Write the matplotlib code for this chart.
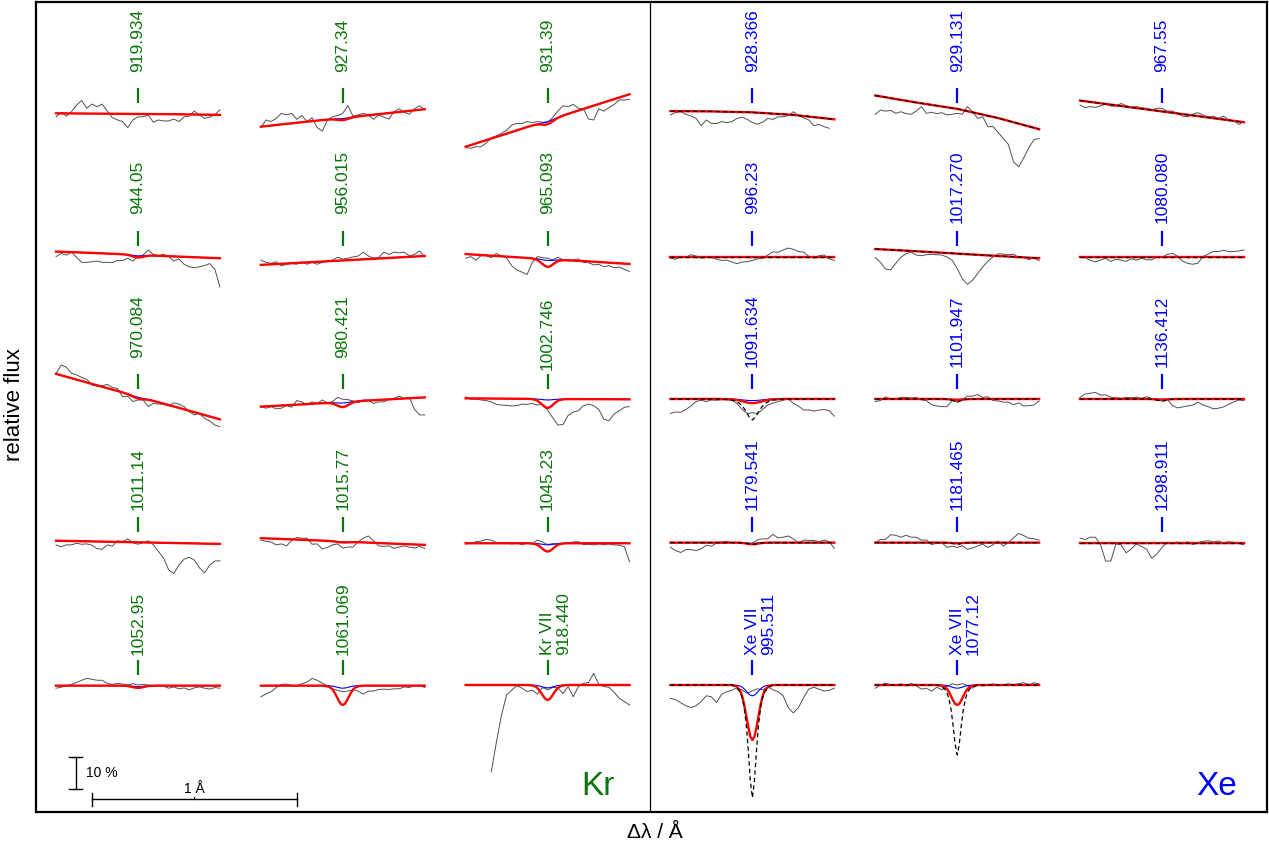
import numpy as np
import matplotlib
matplotlib.use("Agg")
import matplotlib.pyplot as plt

plt.rcParams['font.family'] = ['Liberation Sans', 'DejaVu Sans']
nan = np.nan

# ---------------- data ----------------
# observed spectra: relative flux offset in %, sampled evenly from -0.4 to +0.4 A
kr_919_934 = [-1.2, 0.2, -1.0, 0.4, 2.5, 3.9, 1.5, 2.8, 2.0, 2.8, 0.6, -1.5, -2.2, -2.7, -4.6, -2.2, -1.2,
              -1.2, -0.6, -2.9, -2.2, -2.5, -2.5, -1.9, -2.7, -1.2, -1.0, 0.6, -0.6, -1.7, -1.3, -0.6, 1.0]
kr_927_34 = [-4.6, -2.2, -2.7, -1.7, -0.1, -0.6, -0.1, -2.0, -0.8, -2.7, -1.5, -4.6, -5.7, -2.2, -1.2, -0.8,
             -0.1, 2.3, -1.0, -0.6, -0.1, -0.6, -2.0, -0.6, -1.3, -1.9, 0.4, 1.3, 0.2, -0.4, 1.3, 2.3, 1.0]
kr_931_39 = [-10.9, -11.1, -10.6, -10.6, -9.5, -7.8, -7.2, -6.4, -5.4, -3.8, -3.3, -3.3, -2.7, -3.0, -2.7,
             -2.9, -2.9, -1.4, 0.6, 2.3, 2.0, 2.7, 1.5, 1.3, -1.9, -2.2, 1.3, 0.6, 1.7, 2.7, 4.1, 4.1, 4.3]
kr_944_05 = [-0.2, 0.8, 0.3, 1.2, -0.4, -2.0, -2.0, -1.8, -1.6, -2.0, -2.0, -2.1, -1.4, -1.4, -0.7, -1.6,
             -0.2, 0.3, 1.9, 0.5, 0.1, 0.5, -0.2, -1.6, -0.9, -2.6, -3.4, -3.7, -3.4, -3.0, -2.4, -4.1, -9.7]
kr_956_015 = [-1.3, -2.0, -2.3, -1.8, -3.1, -2.6, -2.3, -2.6, -1.8, -2.6, -2.0, -2.6, -2.0, -1.6, -1.3, -0.4,
              -1.0, -0.7, -0.3, 0.0, 1.2, 0.0, -0.7, -0.5, 1.2, 0.5, 1.2, 1.0, 1.2, 0.0, 0.5, 1.6, -0.2]
kr_965_093 = [-0.7, -0.2, -1.3, 0.1, 0.1, -0.5, 0.8, 0.0, -0.7, -3.1, -4.4, -5.1, -5.8, -2.0, -0.2, -0.5,
              -0.7, -1.2, -0.4, -1.2, -1.6, -1.3, -0.9, -2.0, -2.1, -2.8, -2.6, -3.4, -3.0, -3.7, -3.5, -4.2, -4.9]
kr_970_084 = [8.1, 10.7, 10.0, 8.1, 7.6, 6.8, 6.2, 4.4, 4.1, 4.1, 4.6, 3.6, 3.3, 0.7, 0.9, -0.8, -0.3,
              -0.3, -2.4, -1.4, -1.6, -1.6, -2.2, -1.2, -1.6, -2.4, -4.0, -5.0, -4.5, -6.1, -6.9, -8.2, -8.7]
kr_980_421 = [-2.4, -2.9, -2.4, -3.1, -2.9, -2.0, -2.6, -0.5, -0.9, -1.8, -0.9, -1.4, -0.3, -1.2, -0.8, 0.5,
              -0.1, -0.2, -0.6, -1.2, -0.3, -0.3, -1.4, -0.9, -0.9, -0.1, 0.2, 0.9, 0.2, 0.5, -3.3, -5.0, -5.0]
kr_1002_746 = [0.7, -0.1, 0.0, -0.3, -0.5, -0.9, -1.7, -1.9, -2.0, -2.2, -2.1, -1.6, -1.7, -1.4, -1.9, -1.6,
               -3.5, -5.9, -8.2, -8.0, -5.2, -4.1, -3.7, -2.1, -1.6, -2.1, -3.3, -6.4, -6.8, -4.7, -3.7, -2.6, -2.4]
kr_1011_14 = [-0.9, -1.5, -0.9, -0.9, -0.4, -0.7, -0.6, -1.0, -2.1, -2.3, -0.9, -1.3, 0.4, 0.1, 1.0, -0.2,
              -0.7, -0.2, 0.4, -0.9, -3.0, -5.1, -8.8, -9.9, -7.2, -5.4, -4.8, -5.7, -8.1, -9.7, -7.3, -6.0, -5.9]
kr_1015_77 = [0.6, 0.2, 0.0, -0.9, -0.6, -1.2, 0.4, 1.4, 1.2, 1.2, -0.7, -0.6, -2.2, -1.7, -0.9, -0.6,
              -1.9, -1.6, -1.6, 0.1, 1.2, 1.9, 0.3, -1.2, -1.4, -1.2, -2.0, -1.6, -1.2, -1.6, -1.9, -1.4, -2.0]
kr_1045_23 = [-0.6, -0.4, 0.1, 0.3, 0.8, 0.6, -0.2, -0.4, -0.2, -0.6, -0.4, -0.8, -0.4, -0.6, 0.6, 0.0,
              -0.8, -0.5, -0.9, -0.4, -0.4, 0.0, 0.1, -0.8, -0.7, -0.9, -0.6, -0.9, -0.6, -0.9, -1.0, -1.5, -6.2]
kr_1052_95 = [-1.0, -0.7, -0.2, 0.2, 0.8, 1.5, 2.1, 1.8, 1.5, 1.5, 0.5, 0.2, 0.5, 0.3, 0.0, 0.4, 0.0,
              0.2, 0.0, -0.2, -0.1, -0.4, -1.0, -0.6, -1.2, -0.9, -1.5, -0.9, -0.6, -1.0, -1.3, -0.8, -1.0]
kr_1061_069 = [-3.7, -2.8, -2.1, -0.8, 0.2, 0.3, -0.2, -0.2, 0.4, 0.9, 2.1, 1.5, 0.6, -0.3, -1.2, -1.7,
               -2.1, -1.9, -1.5, -1.9, -2.9, -1.9, -1.9, -1.4, -1.3, -1.4, -1.2, -1.2, -0.6, -0.8, -0.2, -0.1, -0.8]
kr_918_440 = [nan, nan, nan, nan, nan, -27.3, -18.0, -9.4, -3.1, -1.6, -0.2, -1.0, -2.1, -1.6, -2.9, -0.8,
              -1.5, -0.8, -0.8, -2.7, -0.5, -3.7, -0.5, 0.5, 0.8, 3.7, 0.2, -0.5, -0.7, -2.3, -4.2, -5.2, -6.3]

xe_928_366 = [-0.6, 0.1, 0.4, -0.4, -0.9, -1.7, -4.0, -2.2, -3.3, -3.3, -2.7, -3.0, -2.7, -1.7, -1.3, -2.0,
              -3.0, -3.5, -2.9, -1.7, -2.0, -1.2, -1.2, -0.8, 0.4, -0.8, -1.5, -2.2, -4.0, -3.6, -4.3, -4.8, nan]
xe_929_131 = [-0.4, 0.9, 0.6, 0.8, -0.1, 0.4, -0.2, -0.4, 0.6, 2.0, -0.1, 0.2, -0.2, 0.1, -0.6, -0.4,
              -0.1, -0.4, 2.0, 0.4, -1.7, -1.2, -4.3, -4.3, -6.1, -8.0, -9.9, -15.4, -16.9, -14.1, -10.9, -8.4, -8.0]
xe_967_55 = [2.5, 1.7, 2.0, 1.8, 2.2, 2.8, 2.2, 2.2, 3.0, 2.3, 1.7, 2.0, 1.6, 1.5, 1.0, 1.5, 1.5,
             0.6, 0.6, -0.1, -1.0, -1.2, -0.4, 0.1, -0.6, -1.3, -1.0, -1.7, -1.0, -2.1, -2.4, -3.6, -2.7]
xe_996_23 = [-0.7, -1.0, -0.2, -0.4, 0.4, 0.0, -0.7, -0.4, -0.5, -1.0, -1.4, -1.3, -1.9, -2.4, -1.9, -1.8,
             -1.4, -0.9, -0.7, 0.3, 1.3, 1.2, 1.9, 2.5, 2.1, 1.4, 1.2, -0.1, -0.7, 0.1, 0.3, -0.9, -1.4]
xe_1017_270 = [-0.5, -2.0, -4.1, -4.4, -2.3, -0.4, 0.7, 1.2, 0.3, 0.1, 0.4, 0.5, 0.4, 0.3, -0.3, -1.3,
               -3.9, -7.2, -8.9, -7.6, -5.5, -3.4, -1.6, -0.3, 0.7, 0.6, 0.4, 0.6, -0.5, -0.3, -1.2, -0.5, -1.5]
xe_1080_080 = [-0.2, -0.5, -1.4, -1.8, -1.3, -0.7, -1.7, -1.0, -1.3, -1.7, -0.9, -1.3, -0.7, -1.2, -1.2, -0.3,
               -0.5, 0.5, 0.8, 0.0, -1.6, -2.3, -2.6, -2.3, -0.2, 0.6, 1.4, 1.4, 1.8, 1.4, 1.4, 1.6, 1.9]
xe_1091_634 = [-4.5, -4.1, -4.2, -3.3, -2.2, -0.8, -0.4, -0.8, -0.3, -0.4, -0.2, -0.3, -0.3, -1.4, -3.3, -4.6,
               -4.3, -4.6, -3.3, -1.9, -1.3, -0.8, -0.4, 0.1, -1.4, -2.2, -3.5, -3.4, -3.8, -3.5, -3.3, -3.7, -5.4]
xe_1101_947 = [-0.8, -0.5, 0.7, 0.1, 0.1, 0.5, 0.5, 0.3, 0.5, -0.3, -0.5, -1.8, -2.2, -2.4, -2.4, -0.5,
               -1.0, -0.1, 0.9, 0.9, 1.4, 0.5, 0.7, -0.5, -0.6, -1.0, -1.0, -1.8, -1.2, -2.2, -2.1, -1.9, -0.6]
xe_1136_412 = [0.5, 1.6, 1.8, 2.1, 1.2, 1.3, 0.6, 0.4, 0.2, 0.5, 0.4, 0.6, 0.2, 0.7, 0.2, -0.4,
               -0.6, 0.0, -2.0, -2.8, -2.5, -2.2, -1.9, -1.0, -1.9, -2.4, -3.1, -2.9, -2.5, -1.7, -0.9, -0.3, -0.5]
xe_1179_541 = [-1.7, -2.7, -3.3, -2.4, -2.4, -2.7, -2.2, -1.0, -1.3, -0.3, 0.0, 0.1, -0.2, -0.1, -0.2, -0.6,
               -0.4, 0.7, 1.0, 1.0, 2.4, 1.3, 1.5, 1.9, 1.0, -0.4, 0.6, 0.5, 0.5, 0.1, 0.6, 0.1, -2.0]
xe_1181_465 = [-0.2, 0.8, 0.8, 2.3, 2.1, 1.5, 2.1, 1.5, 1.5, 0.6, 0.6, -0.8, -0.4, -0.2, -1.7, -1.3,
               -1.7, -1.2, -2.3, -1.9, -1.2, -0.7, -1.7, -0.9, 0.3, -1.3, -0.1, 1.3, 2.7, 2.0, 1.2, 1.0, 0.6]
xe_1298_911 = [1.2, 0.8, 1.5, 1.5, -0.9, -6.0, -6.0, -0.6, -0.9, -3.4, -2.2, -0.6, -1.4, -2.3, -5.1, -3.8,
               -1.7, -0.1, -0.3, 0.0, -0.6, 0.1, -0.8, -0.2, 0.2, 0.4, 0.0, 0.3, -0.3, 0.1, -0.1, -0.4, -0.9]
xe_995_511 = [-4.2, -4.6, -5.6, -6.5, -7.1, -6.5, -5.2, -3.4, -3.7, -5.5, -2.9, -2.1, -1.7, -0.8, -1.6, -2.6,
              -1.8, -1.2, -1.5, -0.6, -1.5, -2.1, -3.4, -7.1, -8.8, -7.1, -4.0, -1.3, -0.7, -1.3, -1.9, -1.7, -1.0]
xe_1077_12 = [-1.0, 0.0, 0.6, 0.1, -0.2, 0.4, -0.3, 0.5, -0.2, -1.3, -1.0, -1.9, -0.7, -1.5, -0.4, 0.4,
              0.0, 0.4, -0.2, -1.0, 0.0, -0.3, -0.1, 0.4, -0.1, 0.0, 0.4, 0.1, 0.4, 0.7, 0.1, 0.7, 0.4]

kr_labels = ['919.934', '927.34', '931.39', '944.05', '956.015', '965.093', '970.084', '980.421',
             '1002.746', '1011.14', '1015.77', '1045.23', '1052.95', '1061.069', '918.440']
kr_ions = ['', '', '', '', '', '', '', '', '', '', '', '', '', '', 'Kr VII']
kr_obs = [kr_919_934, kr_927_34, kr_931_39, kr_944_05, kr_956_015, kr_965_093, kr_970_084, kr_980_421,
          kr_1002_746, kr_1011_14, kr_1015_77, kr_1045_23, kr_1052_95, kr_1061_069, kr_918_440]
# model continuum (%) at -0.4, -0.2, 0, +0.2, +0.4 A
kr_cont = [[-0.1, -0.2, -0.3, -0.4, -0.6], [-4.3, -2.9, -1.55, -0.2, 1.2], [-10.6, -6.5, -2.35, 1.8, 5.9],
           [1.4, 0.9, 0.35, -0.2, -0.7], [-2.8, -2.1, -1.4, -0.7, 0.0], [0.6, -0.2, -1.0, -1.7, -2.5],
           [7.9, 4.3, 0.75, -2.8, -6.4], [-2.4, -1.7, -0.95, -0.2, 0.5], [0.2, 0.1, 0.0, -0.05, -0.1],
           [0.4, 0.15, -0.1, -0.35, -0.6], [1.2, 0.7, 0.15, -0.4, -0.9], [-0.4, -0.4, -0.4, -0.4, -0.4],
           [-0.2, -0.2, -0.2, -0.2, -0.2], [-0.2, -0.2, -0.2, -0.2, -0.2], [0.0, 0.0, 0.0, 0.0, 0.0]]
kr_red_depth = [0.0, 0.7, 1.2, 0.8, 0.0, 2.4, 0.6, 1.6, 2.8, 0.0, 0.3, 2.6, 0.7, 6.1, 4.7]
kr_blue_depth = [0.0, 0.2, 0.4, 0.3, 0.0, 0.4, 0.2, 0.3, 0.3, 0.0, 0.1, 0.5, 0.3, 0.8, 0.9]

xe_labels = ['928.366', '929.131', '967.55', '996.23', '1017.270', '1080.080', '1091.634', '1101.947',
             '1136.412', '1179.541', '1181.465', '1298.911', '995.511', '1077.12']
xe_ions = ['', '', '', '', '', '', '', '', '', '', '', '', 'Xe VII', 'Xe VII']
xe_obs = [xe_928_366, xe_929_131, xe_967_55, xe_996_23, xe_1017_270, xe_1080_080, xe_1091_634, xe_1101_947,
          xe_1136_412, xe_1179_541, xe_1181_465, xe_1298_911, xe_995_511, xe_1077_12]
xe_cont = [[0.6, 0.5, 0.2, -0.6, -2.0], [5.5, 3.3, 1.3, -1.6, -5.1], [3.9, 2.2, 0.5, -1.2, -2.9],
           [-0.2, -0.2, -0.2, -0.2, -0.2], [2.2, 1.5, 0.75, 0.0, -0.7], [-0.2, -0.2, -0.2, -0.2, -0.2],
           [0.0, 0.0, 0.0, 0.0, 0.0], [0.0, 0.0, 0.0, 0.0, 0.0], [0.0, 0.0, 0.0, 0.0, 0.0],
           [-0.2, -0.2, -0.2, -0.2, -0.2], [-0.2, -0.2, -0.2, -0.2, -0.2], [-0.2, -0.2, -0.2, -0.2, -0.2],
           [0.0, 0.0, 0.0, 0.0, 0.0], [0.0, 0.0, 0.0, 0.0, 0.0]]
xe_red_depth = [0, 0, 0, 0, 0, 0, 1.3, 0.3, 0.2, 0.5, 0.2, 0, 17.3, 6.3]
xe_blue_depth = [0, 0, 0, 0, 0, 0, 0.5, 0.1, 0.1, 0.2, 0.1, 0, 3.4, 1.0]
xe_dash_depth = [0, 0, 0, 0, 0, 0, 6.6, 0.9, 0.7, 0.6, 0.5, 0, 35.5, 22.0]
xe_width = [1, 1, 1, 1, 1, 1, 1.6, 1, 1, 1, 1, 1, 1, 1]

# normalised line profiles
cont_dl = [-0.4, -0.2, 0.0, 0.2, 0.4]
dip_dl = [-0.10, -0.08, -0.06, -0.05, -0.04, -0.03, -0.02, -0.01, 0.0,
          0.01, 0.02, 0.03, 0.04, 0.05, 0.06, 0.08, 0.10]
red_shape = [0, 0.02, 0.10, 0.20, 0.36, 0.56, 0.77, 0.94, 1.0, 0.94, 0.77, 0.56, 0.36, 0.20, 0.10, 0.02, 0]
dash_shape = [0, 0.02, 0.06, 0.11, 0.20, 0.35, 0.58, 0.85, 1.0, 0.85, 0.58, 0.35, 0.20, 0.11, 0.06, 0.02, 0]

# ---------------- layout ----------------
PX_X = 204.8      # pixels per Angstrom
PX_Y = 3.178      # pixels per percent
ROW_STEP = 45.0   # percent between rows
kr_lift_px = [41, 41, 41, 42, 42, 42, 41, 41, 29, 32, 32, 32, 30, 30, 30]
xe_lift_px = [41, 41, 41, 42, 33, 33, 32, 32, 32, 32, 32, 32, 30, 30]
KR_COL = '#0b760b'
XE_COL = '#0000ff'

fig = plt.figure(figsize=(12.69, 8.48), dpi=100)
ax = fig.add_axes([36 / 1269, 1 - 812 / 848, 1231 / 1269, 810 / 848])
x_left = 0.5 - (138 - 36) / PX_X
x_right = 0.5 + (1267 - 138) / PX_X
y_top = (113 - 2) / PX_Y
y_bot = -4 * ROW_STEP - (812 - 685) / PX_Y
ax.set_xlim(x_left, x_right)
ax.set_ylim(y_bot, y_top)
ax.set_xticks([])
ax.set_yticks([])
for s in ax.spines.values():
    s.set_linewidth(1.6)
ax.axvline(3.0, color='black', lw=0.9)


def model_curve(cont, depth, shape, width):
    dxs = np.array(dip_dl) * width
    x = np.union1d(np.array(cont_dl), dxs)
    c = np.interp(x, cont_dl, cont)
    d = np.interp(x, dxs, np.array(shape) * depth)
    return x, c - d


def draw_panel(i, xc0, obs, cont, red_d, blue_d, dash_d, width, label, ion, lift_px, col):
    row, c = divmod(i, 3)
    xc = xc0 + c
    yb = -ROW_STEP * row
    obs = np.array(obs, dtype=float)
    xo = np.linspace(-0.4, 0.4, len(obs))
    ax.plot(xc + xo, yb + obs, color='#505050', lw=0.7, zorder=2)
    xb, yb_blue = model_curve(cont, blue_d, red_shape, width)
    ax.plot(xc + xb, yb + yb_blue, color='#0000ff', lw=0.8, zorder=3)
    xr, yr = model_curve(cont, red_d, red_shape, width)
    ax.plot(xc + xr, yb + yr, color='#ff0000', lw=1.7, zorder=4)
    if dash_d is not None:
        xd, yd = model_curve(cont, dash_d, dash_shape, width)
        ax.plot(xc + xd, yb + yd, color='black', lw=0.9, ls=(0, (3.5, 2.5)), zorder=5)
    # identification mark and label
    ax.plot([xc, xc], [yb + 10 / PX_Y, yb + 25 / PX_Y], color=col, lw=1.6, zorder=6,
            solid_capstyle='butt')
    ly = yb + lift_px / PX_Y
    if ion:
        ax.text(xc, ly, ion, rotation=90, rotation_mode='anchor', ha='left', va='center',
                color=col, fontsize=12.5)
        ax.text(xc + 16 / PX_X, ly, label, rotation=90, rotation_mode='anchor', ha='left',
                va='center', color=col, fontsize=12.5)
    else:
        ax.text(xc, ly, label, rotation=90, rotation_mode='anchor', ha='left', va='center',
                color=col, fontsize=12.5)


for i in range(len(kr_labels)):
    draw_panel(i, 0.5, kr_obs[i], kr_cont[i], kr_red_depth[i], kr_blue_depth[i], None, 1.0,
               kr_labels[i], kr_ions[i], kr_lift_px[i], KR_COL)
for i in range(len(xe_labels)):
    draw_panel(i, 3.5, xe_obs[i], xe_cont[i], xe_red_depth[i], xe_blue_depth[i], xe_dash_depth[i],
               xe_width[i], xe_labels[i], xe_ions[i], xe_lift_px[i], XE_COL)

# element names
y_base = -4 * ROW_STEP - (795 - 685) / PX_Y
ax.text(0.5 + (615 - 138) / PX_X, y_base, 'Kr', color=KR_COL, fontsize=24, ha='right', va='baseline')
ax.text(0.5 + (1237 - 138) / PX_X, y_base, 'Xe', color=XE_COL, fontsize=24, ha='right', va='baseline')

# scale bars
xv = 0.5 + (75.5 - 138) / PX_X
y1 = -4 * ROW_STEP - (757 - 685) / PX_Y
y2 = y1 - 10.0
ax.plot([xv, xv], [y1, y2], color='black', lw=1.0)
for yy in (y1, y2):
    ax.plot([xv - 6.5 / PX_X, xv + 6.5 / PX_X], [yy, yy], color='black', lw=1.0)
ax.text(0.5 + (86 - 138) / PX_X, (y1 + y2) / 2, '10 %', fontsize=10, ha='left', va='center')
xh1 = 0.5 + (92 - 138) / PX_X
xh2 = xh1 + 1.0
yh = -4 * ROW_STEP - (799 - 685) / PX_Y
ax.plot([xh1, xh2], [yh, yh], color='black', lw=1.0)
for xx in (xh1, xh2):
    ax.plot([xx, xx], [yh - 6.5 / PX_Y, yh + 6.5 / PX_Y], color='black', lw=1.0)
ax.plot([(xh1 + xh2) / 2] * 2, [yh, yh + 2 / PX_Y], color='black', lw=0.8)
ax.text((xh1 + xh2) / 2, yh + 3 / PX_Y, '1 Å', fontsize=10, ha='center', va='bottom')

fig.text(15 / 1269, 1 - 405 / 848, 'relative flux', rotation=90, ha='center', va='center', fontsize=16)
fig.text(655 / 1269, 1 - 832 / 848, 'Δλ / Å', ha='center', va='center', fontsize=15)

fig.savefig('out.png', dpi=100)
